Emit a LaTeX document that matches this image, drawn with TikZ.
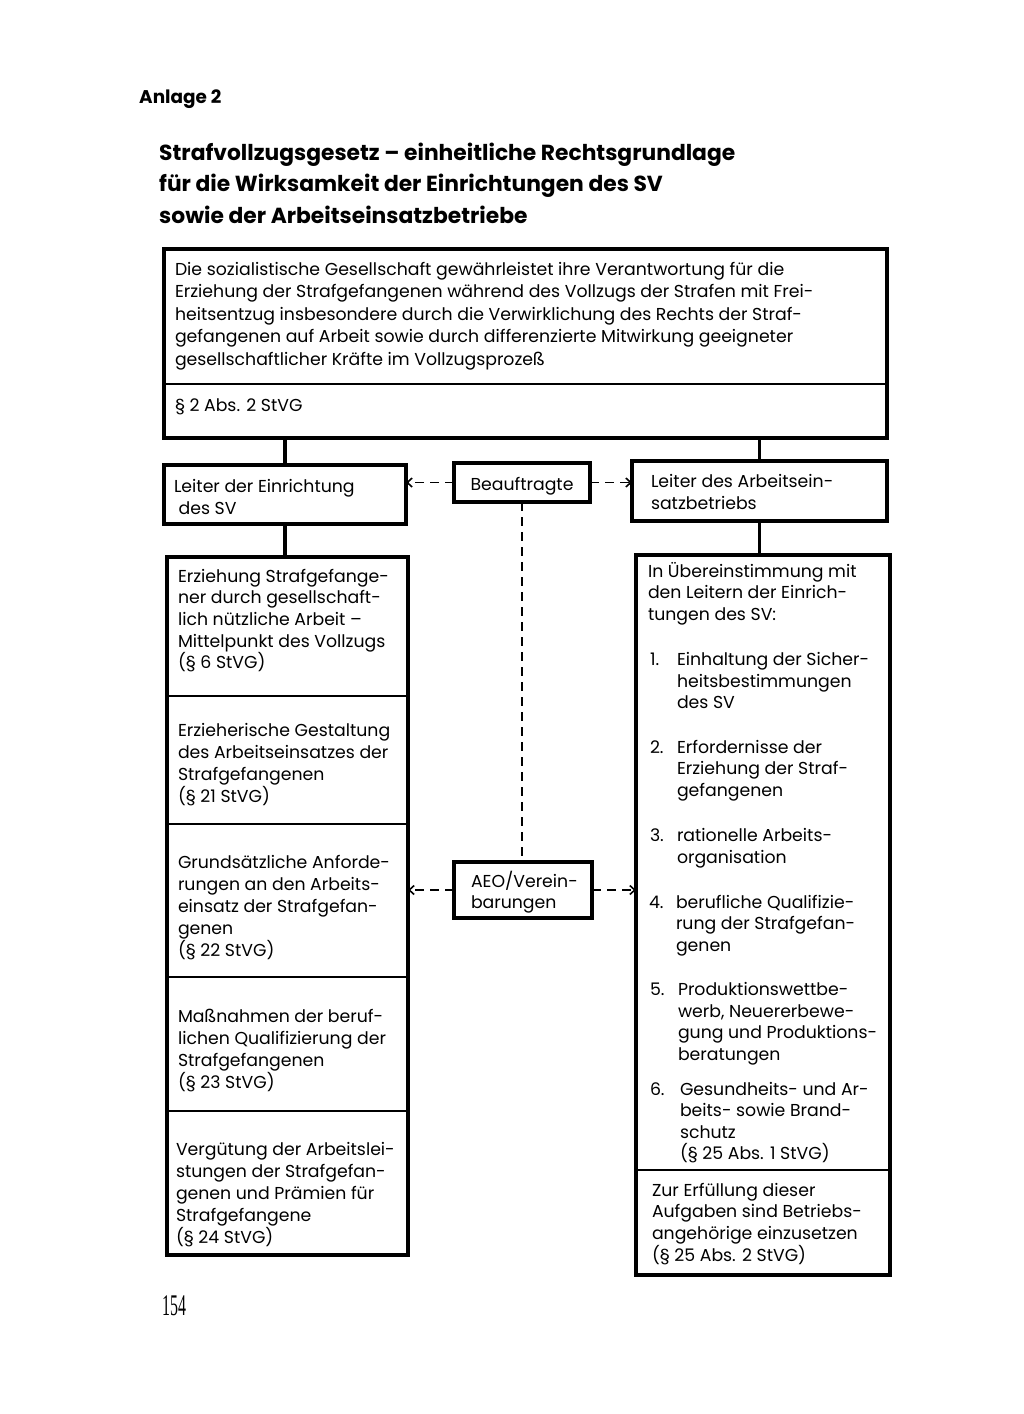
\documentclass[tikz,border=0pt]{standalone}
\usepackage{fontspec}
\setmainfont{Poppins}
\newfontfamily\tfont{Poppins}
\newfontfamily\numfont{Liberation Serif}[FakeStretch=0.53]
\usetikzlibrary{arrows.meta}
\newcommand\firstln{\rule{0pt}{20pt}}
\newcommand\firsttl{\rule{0pt}{22pt}}
\begin{document}
\begin{tikzpicture}[x=1pt,y=-1pt,
  frame/.style={draw, line width=3.4pt},
  cellbox/.style={draw, line width=2.4pt, inner sep=0pt, outer sep=0pt, anchor=north west},
  tbox/.style={draw, line width=3.4pt, inner sep=0pt, outer sep=0pt, anchor=north west},
  conn/.style={line width=3.2pt},
  dashline/.style={line width=1.6pt, dash pattern=on 9pt off 6pt},
  dasharrow/.style={dashline, -{Straight Barb[length=5pt,width=9pt,line width=1.6pt]}},
  txt/.style={anchor=north west, inner sep=0pt, outer sep=0pt, align=left,
    font=\fontsize{17.3}{22.2}\selectfont},
  txtr/.style={txt, font=\fontsize{17.3}{21.6}\selectfont},
]
\useasboundingbox[fill=white] (0,0) rectangle (1024,1414);

% heading
\node[anchor=north west, inner sep=0pt, font=\tfont\bfseries\fontsize{18.4}{20}\selectfont] (anlage) at (139,83) {\firstln Anlage 2};
\node[anchor=north west, inner sep=0pt, align=left, font=\tfont\bfseries\fontsize{21.8}{31.5}\selectfont] (title) at (159,138)
 {\firsttl Strafvollzugsgesetz – einheitliche Rechtsgrundlage\\für die Wirksamkeit der Einrichtungen des SV\\sowie der Arbeitseinsatzbetriebe};

% top box
\node[tbox, minimum width=723pt, minimum height=189pt] (top) at (164,249) {};
\draw[line width=2.6pt] (top.west |- 0,384) -- (top.east |- 0,384);
\node[txt, font=\fontsize{17.3}{22.4}\selectfont] (toptxt) at (175,255.5)
 {\firstln Die sozialistische Gesellschaft gewährleistet ihre Verantwortung für die\\
  Erziehung der Strafgefangenen während des Vollzugs der Strafen mit Frei-\\
  heitsentzug insbesondere durch die Verwirklichung des Rechts der Straf-\\
  gefangenen auf Arbeit sowie durch differenzierte Mitwirkung geeigneter\\
  gesellschaftlicher Kräfte im Vollzugsprozeß};
\node[txt] (topref) at (175,391) {\firstln § 2 Abs. 2 StVG};

% second row
\node[tbox, minimum width=242pt, minimum height=59pt] (leiterL) at (164,465) {};
\node[txt] (leiterLtxt) at (174,472) {\firstln Leiter der Einrichtung\\\ des SV};
\node[tbox, minimum width=136pt, minimum height=39pt, anchor=north west,
      text height=15pt, text depth=0pt,
      font=\fontsize{17.3}{22.2}\selectfont] (beau) at (454,463) {Beauftragte};
\node[tbox, minimum width=255pt, minimum height=60pt] (leiterR) at (632,461) {};
\node[txt] (leiterRtxt) at (651,467) {\firstln Leiter des Arbeitsein-\\satzbetriebs};

\draw[conn] (leiterL.north |- top.south) -- (leiterL.north);
\draw[conn] (leiterR.north |- top.south) -- (leiterR.north);
\draw[dasharrow] (beau.west) -- (beau.west -| leiterL.east);
\draw[dasharrow] (beau.east) -- (beau.east -| leiterR.west);

% left column
\node[cellbox, minimum width=241pt, minimum height=139pt] (c1) at (167,557) {};
\node[cellbox, minimum width=241pt, minimum height=128pt] (c2) at (167,696) {};
\node[cellbox, minimum width=241pt, minimum height=153pt] (c3) at (167,824) {};
\node[cellbox, minimum width=241pt, minimum height=134pt] (c4) at (167,977) {};
\node[cellbox, minimum width=241pt, minimum height=144pt] (c5) at (167,1111) {};
\draw[frame] (c1.north west) rectangle (c5.south east);
\draw[conn] (leiterL.south) -- (leiterL.south |- c1.north);

\node[txt, font=\fontsize{17.3}{21.7}\selectfont] (c1t) at (178,562) {\firstln Erziehung Strafgefange-\\ner durch gesellschaft-\\lich nützliche Arbeit –\\Mittelpunkt des Vollzugs\\(§ 6 StVG)};
\node[txt] (c2t) at (178,716) {\firstln Erzieherische Gestaltung\\des Arbeitseinsatzes der\\Strafgefangenen\\(§ 21 StVG)};
\node[txt] (c3t) at (178,848) {\firstln Grundsätzliche Anforde-\\rungen an den Arbeits-\\einsatz der Strafgefan-\\genen\\(§ 22 StVG)};
\node[txt] (c4t) at (178,1002) {\firstln Maßnahmen der beruf-\\lichen Qualifizierung der\\Strafgefangenen\\(§ 23 StVG)};
\node[txt] (c5t) at (176,1135) {\firstln Vergütung der Arbeitslei-\\stungen der Strafgefan-\\genen und Prämien für\\Strafgefangene\\(§ 24 StVG)};

% right column
\node[cellbox, minimum width=254pt, minimum height=615pt] (r1) at (636,555) {};
\node[cellbox, minimum width=254pt, minimum height=105pt] (r2) at (636,1170) {};
\draw[frame] (r1.north west) rectangle (r2.south east);
\draw[conn] (leiterR.south) -- (leiterR.south |- r1.north);

\node[txtr] (r1h) at (648,557) {\firstln In Übereinstimmung mit\\den Leitern der Einrich-\\tungen des SV:};
\node[txtr] (n1) at (650,645.5) {\firstln 1.};
\node[txtr] (i1) at (677,645.5) {\firstln Einhaltung der Sicher-\\heitsbestimmungen\\des SV};
\node[txtr] (n2) at (650,733) {\firstln 2.};
\node[txtr] (i2) at (677,733) {\firstln Erfordernisse der\\Erziehung der Straf-\\gefangenen};
\node[txtr] (n3) at (650,821.5) {\firstln 3.};
\node[txtr] (i3) at (677,821.5) {\firstln rationelle Arbeits-\\organisation};
\node[txtr] (n4) at (649,888) {\firstln 4.};
\node[txtr] (i4) at (676,888) {\firstln berufliche Qualifizie-\\rung der Strafgefan-\\genen};
\node[txtr] (n5) at (650,975.5) {\firstln 5.};
\node[txtr] (i5) at (678,975.5) {\firstln Produktionswettbe-\\werb, Neuererbewe-\\gung und Produktions-\\beratungen};
\node[txtr] (n6) at (650,1075.5) {\firstln 6.};
\node[txt, font=\fontsize{17.3}{21.4}\selectfont] (i6) at (680,1075.5) {\firstln Gesundheits- und Ar-\\beits- sowie Brand-\\schutz\\(§ 25 Abs. 1 StVG)};
\node[txt, font=\fontsize{17.3}{21.8}\selectfont] (r2t) at (652,1176) {\firstln Zur Erfüllung dieser\\Aufgaben sind Betriebs-\\angehörige einzusetzen\\(§ 25 Abs. 2 StVG)};

% AEO box
\node[tbox, minimum width=138pt, minimum height=56pt, anchor=north west] (aeo) at (454,862) {};
\node[txt, font=\fontsize{17.3}{21.4}\selectfont] (aeot) at (471,867) {\firstln AEO/Verein-\\barungen};
\draw[dashline] (beau.south) -- (beau.south |- aeo.north);
\draw[dasharrow] (aeo.west) -- (aeo.west -| c3.east);
\draw[dasharrow] (aeo.east) -- (aeo.east -| r1.west);

% page number
\node[anchor=north west, inner sep=0pt, font=\numfont\fontsize{30}{30}\selectfont] (page) at (162,1295) {154};
\end{tikzpicture}
\end{document}
